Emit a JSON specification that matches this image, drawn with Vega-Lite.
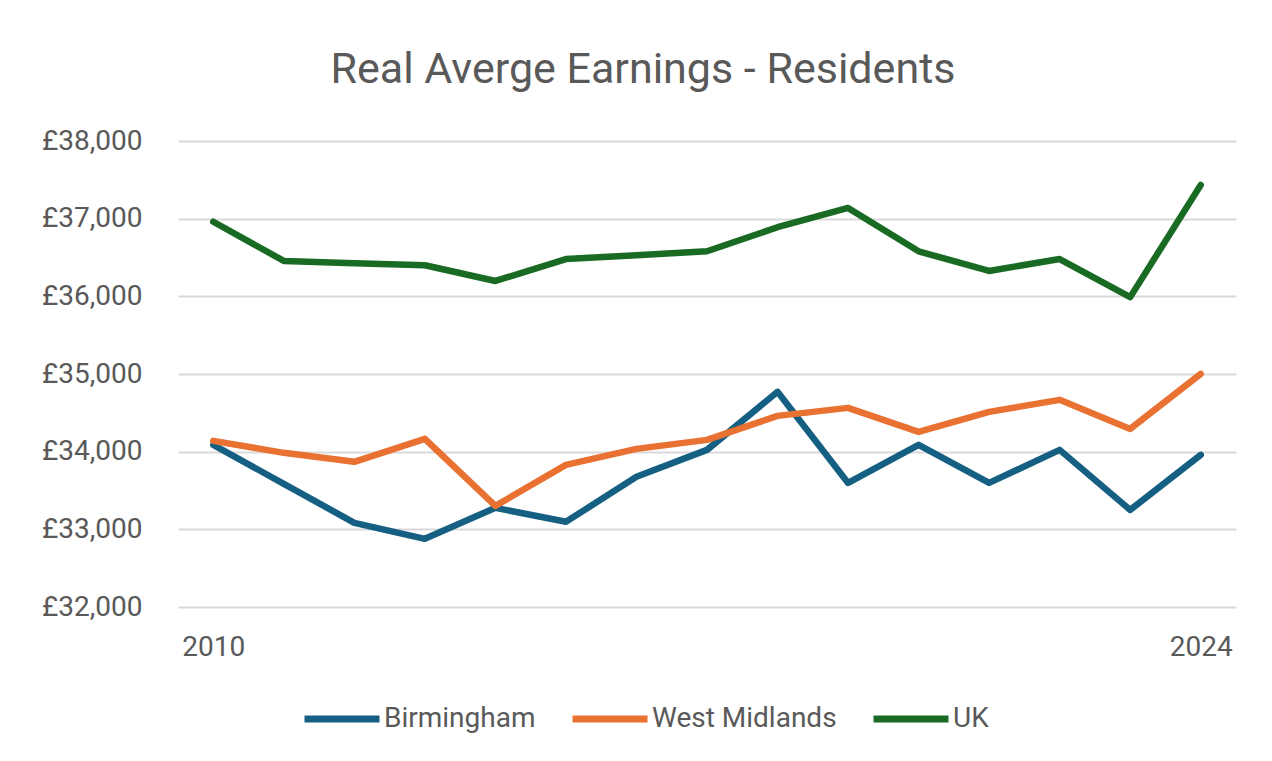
{
  "$schema": "https://vega.github.io/schema/vega-lite/v6.json",
  "width": 1058,
  "height": 466,
  "autosize": {"type": "none"},
  "padding": {"left": 178, "top": 141, "right": 36, "bottom": 154},
  "background": "white",
  "title": {
    "text": "Real Averge Earnings - Residents",
    "font": "Roboto",
    "fontSize": 43,
    "fontWeight": "normal",
    "color": "#595959",
    "anchor": "middle",
    "dx": -64,
    "offset": 35
  },
  "data": {
    "values": [
      {"year": "2010", "series": "Birmingham", "value": 34088},
      {"year": "2011", "series": "Birmingham", "value": 33586},
      {"year": "2012", "series": "Birmingham", "value": 33084},
      {"year": "2013", "series": "Birmingham", "value": 32878},
      {"year": "2014", "series": "Birmingham", "value": 33277},
      {"year": "2015", "series": "Birmingham", "value": 33097},
      {"year": "2016", "series": "Birmingham", "value": 33676},
      {"year": "2017", "series": "Birmingham", "value": 34023},
      {"year": "2018", "series": "Birmingham", "value": 34770},
      {"year": "2019", "series": "Birmingham", "value": 33598},
      {"year": "2020", "series": "Birmingham", "value": 34088},
      {"year": "2021", "series": "Birmingham", "value": 33598},
      {"year": "2022", "series": "Birmingham", "value": 34023},
      {"year": "2023", "series": "Birmingham", "value": 33250},
      {"year": "2024", "series": "Birmingham", "value": 33959},
      {"year": "2010", "series": "West Midlands", "value": 34139},
      {"year": "2011", "series": "West Midlands", "value": 33985},
      {"year": "2012", "series": "West Midlands", "value": 33869},
      {"year": "2013", "series": "West Midlands", "value": 34165},
      {"year": "2014", "series": "West Midlands", "value": 33302},
      {"year": "2015", "series": "West Midlands", "value": 33830},
      {"year": "2016", "series": "West Midlands", "value": 34036},
      {"year": "2017", "series": "West Midlands", "value": 34152},
      {"year": "2018", "series": "West Midlands", "value": 34461},
      {"year": "2019", "series": "West Midlands", "value": 34564},
      {"year": "2020", "series": "West Midlands", "value": 34255},
      {"year": "2021", "series": "West Midlands", "value": 34512},
      {"year": "2022", "series": "West Midlands", "value": 34667},
      {"year": "2023", "series": "West Midlands", "value": 34293},
      {"year": "2024", "series": "West Midlands", "value": 35001},
      {"year": "2010", "series": "UK", "value": 36960},
      {"year": "2011", "series": "UK", "value": 36456},
      {"year": "2012", "series": "UK", "value": 36425},
      {"year": "2013", "series": "UK", "value": 36400},
      {"year": "2014", "series": "UK", "value": 36198},
      {"year": "2015", "series": "UK", "value": 36480},
      {"year": "2016", "series": "UK", "value": 36530},
      {"year": "2017", "series": "UK", "value": 36580},
      {"year": "2018", "series": "UK", "value": 36890},
      {"year": "2019", "series": "UK", "value": 37138},
      {"year": "2020", "series": "UK", "value": 36580},
      {"year": "2021", "series": "UK", "value": 36327},
      {"year": "2022", "series": "UK", "value": 36480},
      {"year": "2023", "series": "UK", "value": 35990},
      {"year": "2024", "series": "UK", "value": 37434}
    ]
  },
  "mark": {"type": "line", "strokeWidth": 6.5, "strokeCap": "round", "strokeJoin": "round"},
  "encoding": {
    "x": {
      "field": "year",
      "type": "ordinal",
      "scale": {"type": "point", "padding": 0.5},
      "axis": {
        "title": null,
        "values": ["2010", "2024"],
        "labelAngle": 0,
        "domain": false,
        "ticks": false,
        "grid": false,
        "labelFont": "Roboto",
        "labelFontSize": 28,
        "labelColor": "#595959",
        "labelPadding": 26
      }
    },
    "y": {
      "field": "value",
      "type": "quantitative",
      "scale": {"domain": [32000, 38000], "nice": false, "zero": false},
      "axis": {
        "title": null,
        "values": [32000, 33000, 34000, 35000, 36000, 37000, 38000],
        "labelExpr": "'£' + format(datum.value, ',')",
        "domain": false,
        "ticks": false,
        "grid": true,
        "gridColor": "#D9D9D9",
        "gridWidth": 2,
        "labelFont": "Roboto",
        "labelFontSize": 28,
        "labelColor": "#595959",
        "labelPadding": 36
      }
    },
    "color": {
      "field": "series",
      "type": "nominal",
      "scale": {
        "domain": ["Birmingham", "West Midlands", "UK"],
        "range": ["#156082", "#E97132", "#196B24"]
      },
      "legend": {
        "title": null,
        "orient": "none",
        "direction": "horizontal",
        "legendX": 123,
        "legendY": 537,
        "symbolType": "stroke",
        "symbolSize": 5625,
        "symbolStrokeWidth": 7,
        "labelFont": "Roboto",
        "labelFontSize": 28,
        "labelColor": "#595959",
        "labelOffset": 1,
        "columnPadding": 22,
        "labelLimit": 400
      }
    }
  },
  "config": {"view": {"stroke": null}}
}
